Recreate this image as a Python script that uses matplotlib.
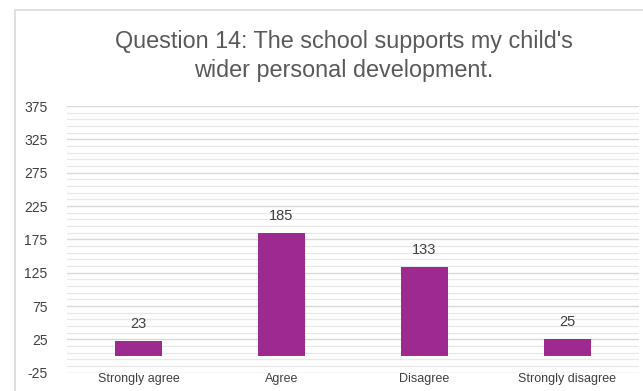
import matplotlib
matplotlib.use("Agg")
import matplotlib.pyplot as plt
from matplotlib.patches import Rectangle
import numpy as np

categories = ["Strongly agree", "Agree", "Disagree", "Strongly disagree"]
responses = [23, 185, 133, 25]
y_ticks = [-25, 25, 75, 125, 175, 225, 275, 325, 375]

title = "Question 14: The school supports my child's\nwider personal development."
bar_color = "#9C2A8F"
sans = ["Liberation Sans", "DejaVu Sans"]

fig = plt.figure(figsize=(6.43, 3.91), dpi=100)

# light chart-area frame
fig.patches.append(Rectangle((15.5 / 643, -0.1), 1.2, (391 - 10) / 391 + 0.1,
                             transform=fig.transFigure, fill=False,
                             edgecolor="#D9D9D9", linewidth=1.2))

ax = fig.add_axes([67 / 643, (391 - 372.7) / 391, 572 / 643, (372.7 - 106) / 391])

x = np.arange(len(categories))
ax.bar(x, responses, width=0.335, color=bar_color, zorder=3)

for xi, v in zip(x, responses):
    ax.text(xi, v + 15, str(v), ha="center", va="bottom", fontsize=10.5,
            color="#404040", family=sans)

ax.set_xlim(-0.5, len(categories) - 0.5)
ax.set_ylim(-25, 375)
ax.set_yticks(y_ticks)
ax.set_yticks(np.arange(-25, 376, 10), minor=True)
ax.set_xticks(x)
ax.set_xticklabels(categories, family=sans, fontsize=9, color="#404040")
ax.set_yticklabels([str(t) for t in y_ticks], family=sans, fontsize=10,
                   color="#404040")

ax.grid(axis="y", which="major", color="#D9D9D9", linewidth=1.0, zorder=0)
ax.grid(axis="y", which="minor", color="#E8E8E8", linewidth=0.9, zorder=0)
ax.tick_params(axis="both", which="both", length=0)
ax.tick_params(axis="y", pad=14)
ax.tick_params(axis="x", pad=0)
for s in ax.spines.values():
    s.set_visible(False)

fig.text(344 / 643, (391 - 56) / 391, title, ha="center", va="center",
         fontsize=16.8, color="#595959", family=sans, linespacing=1.35)

fig.savefig("out.png", dpi=100)
